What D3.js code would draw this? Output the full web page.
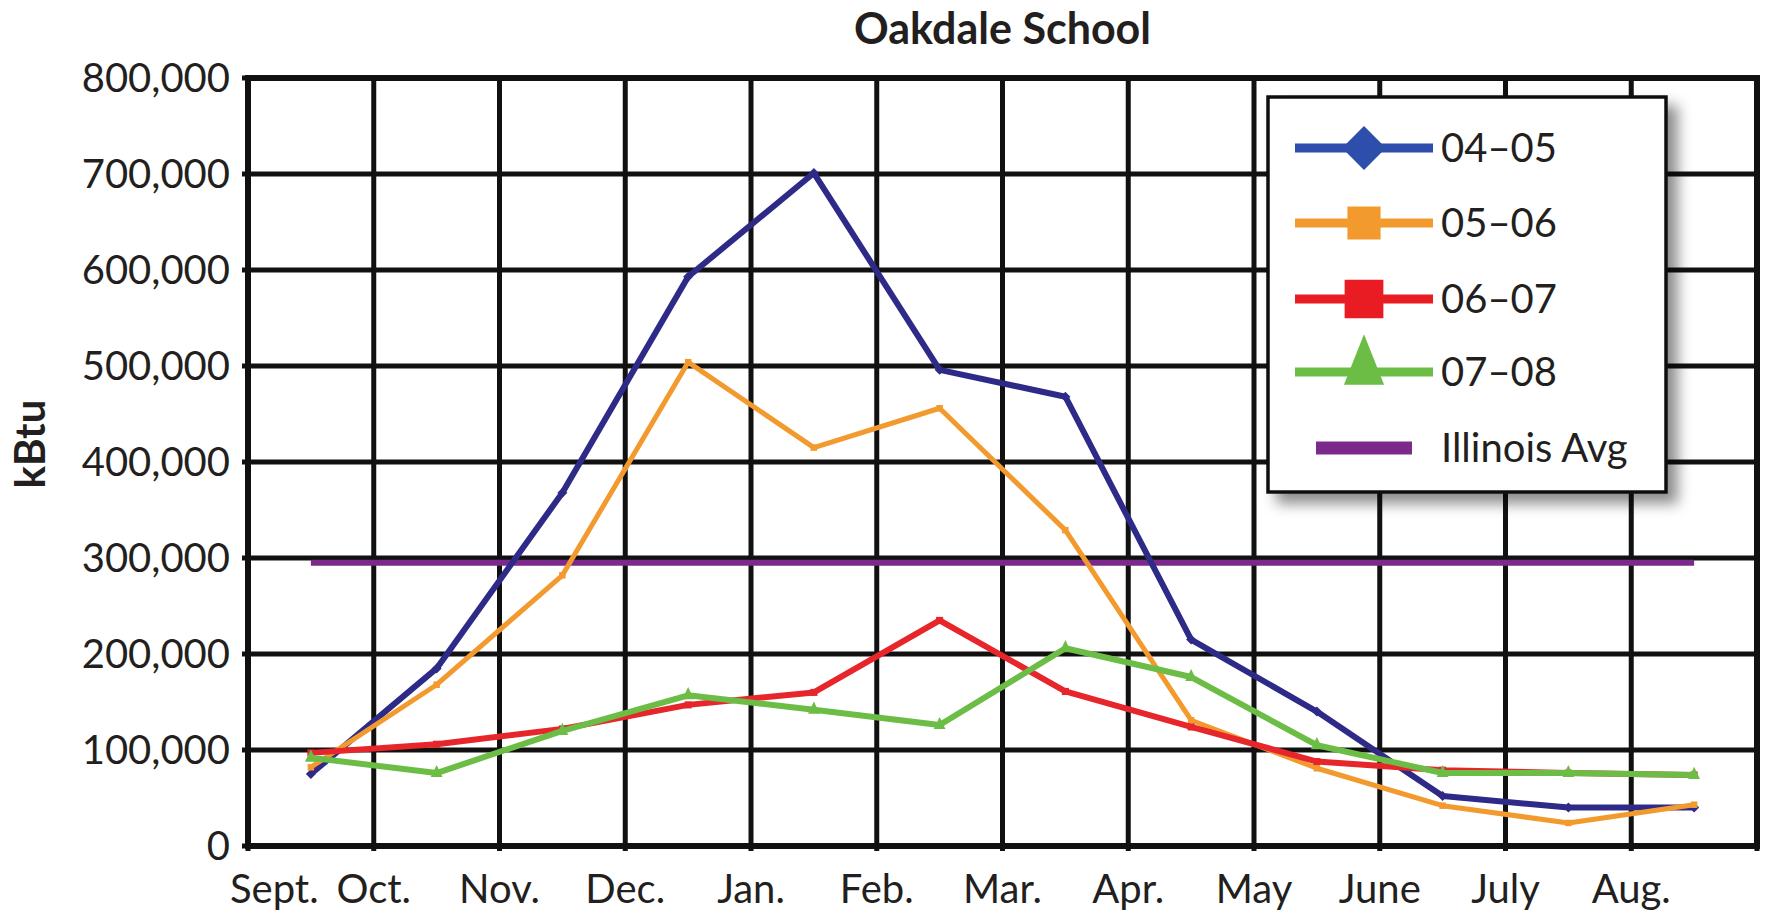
<!DOCTYPE html>
<html>
<head>
<meta charset="utf-8">
<script src="https://cdn.jsdelivr.net/npm/d3@7"></script>
<style>
  html, body { margin: 0; padding: 0; background: #ffffff; }
  svg { display: block; }
  text { font-family: Lato, "Noto Sans", sans-serif; fill: #231f20; }
</style>
</head>
<body>
<svg id="chart" width="1768" height="913"></svg>
<script>
// Monthly energy use at Oakdale School, in kBtu
const months = ["Sept.", "Oct.", "Nov.", "Dec.", "Jan.", "Feb.", "Mar.", "Apr.", "May", "June", "July", "Aug."];
const y0405 = [75000, 185000, 368000, 593000, 701000, 496000, 468000, 215000, 140000, 52000, 40000, 40000];
const y0506 = [82000, 168000, 282000, 504000, 415000, 456000, 329000, 131000, 81000, 42000, 24000, 43000];
const y0607 = [97000, 106000, 122000, 147000, 160000, 235000, 161000, 124000, 88000, 79000, 76000, 74000];
const y0708 = [92000, 76000, 120000, 157000, 142000, 126000, 206000, 176000, 105000, 76000, 76000, 74000];
const illinoisAvg = [295000, 295000, 295000, 295000, 295000, 295000, 295000, 295000, 295000, 295000, 295000, 295000];
const yTicks = [0, 100000, 200000, 300000, 400000, 500000, 600000, 700000, 800000];

const series = [
  { name: "Illinois Avg", values: illinoisAvg, color: "#7b2a8c", width: 6, marker: null },
  { name: "04\u201305", values: y0405, color: "#2e2a88", key: "#2d4fab", width: 6, marker: "diamond" },
  { name: "05\u201306", values: y0506, color: "#f39a2e", key: "#f39a2e", width: 5, marker: "square" },
  { name: "06\u201307", values: y0607, color: "#e7262b", key: "#e91c24", width: 6, marker: "bigsquare" },
  { name: "07\u201308", values: y0708, color: "#6cbd45", key: "#6cbd45", width: 6, marker: "triangle" }
];

const svg = d3.select("#chart");
const plot = { left: 248, right: 1757, top: 78, bottom: 846 };

const x = d3.scaleBand().domain(months).range([plot.left, plot.right]).padding(0);
const y = d3.scaleLinear().domain([0, 800000]).range([plot.bottom, plot.top]);
const fmt = d3.format(",");

// drop shadow for the legend box
const defs = svg.append("defs");
const shadow = defs.append("filter").attr("id", "legendShadow")
  .attr("x", "-10%").attr("y", "-10%").attr("width", "130%").attr("height", "130%");
shadow.append("feDropShadow").attr("dx", 10).attr("dy", 10)
  .attr("stdDeviation", 7).attr("flood-color", "#000").attr("flood-opacity", 0.45);

// title
svg.append("text")
  .attr("x", (plot.left + plot.right) / 2).attr("y", 44)
  .attr("text-anchor", "middle")
  .style("font-size", "43px").style("font-weight", "700")
  .text("Oakdale School");

// y axis title
svg.append("text")
  .attr("transform", `translate(45,${(plot.top + plot.bottom) / 2 - 18}) rotate(-90)`)
  .attr("text-anchor", "middle")
  .style("font-size", "42px").style("font-weight", "700")
  .text("kBtu");

// horizontal grid lines + small ticks
const grid = svg.append("g");
grid.selectAll("line.h").data(yTicks).join("line")
  .attr("x1", plot.left - 6).attr("x2", plot.right)
  .attr("y1", d => y(d)).attr("y2", d => y(d))
  .attr("stroke", "#111").attr("stroke-width", 5);

// vertical grid lines at month boundaries
const bounds = months.map(m => x(m)).concat([plot.right]);
grid.selectAll("line.v").data(bounds).join("line")
  .attr("x1", d => d).attr("x2", d => d)
  .attr("y1", plot.top).attr("y2", plot.bottom + 5)
  .attr("stroke", "#111").attr("stroke-width", 5);

// plot frame
grid.append("rect")
  .attr("x", plot.left).attr("y", plot.top)
  .attr("width", plot.right - plot.left).attr("height", plot.bottom - plot.top)
  .attr("fill", "none").attr("stroke", "#111").attr("stroke-width", 6);

// y tick labels
svg.append("g").selectAll("text").data(yTicks).join("text")
  .attr("x", plot.left - 18).attr("y", d => y(d) + 14)
  .attr("text-anchor", "end")
  .style("font-size", "40px")
  .text(d => fmt(d));

// x tick labels sit on the month boundaries
const xl = svg.append("g").selectAll("text").data(months).join("text")
  .attr("y", 903)
  .attr("text-anchor", "middle")
  .style("font-size", "40px")
  .text(d => d);
xl.each(function (d) {
  const w = this.getComputedTextLength();
  const pos = Math.max(x(d), 230 + w / 2);
  d3.select(this).attr("x", pos);
});

// marker shapes
function markerPath(kind, big) {
  if (kind === "diamond") return d3.symbol(d3.symbolSquare, big ? 960 : 50)();
  if (kind === "square") return d3.symbol(d3.symbolSquare, big ? 1100 : 42)();
  if (kind === "bigsquare") return d3.symbol(d3.symbolSquare, big ? 1500 : 50)();
  if (kind === "triangle") return d3.symbol(d3.symbolTriangle, big ? 700 : 60)();
  return null;
}
function markerTransform(kind, cx, cy, big) {
  if (kind === "diamond") return `translate(${cx},${cy}) rotate(45)`;
  if (kind === "triangle") return `translate(${cx},${cy}) scale(1,${big ? 1.45 : 1.2})`;
  return `translate(${cx},${cy})`;
}

// lines
const line = d3.line()
  .x((d, i) => x(months[i]) + x.bandwidth() / 2)
  .y(d => y(d));

series.forEach(s => {
  const g = svg.append("g");
  g.append("path")
    .attr("d", line(s.values))
    .attr("fill", "none")
    .attr("stroke", s.color)
    .attr("stroke-width", s.width)
    .attr("stroke-linejoin", "round");
  if (s.marker) {
    g.selectAll("path.m").data(s.values).join("path")
      .attr("d", markerPath(s.marker, false))
      .attr("transform", (d, i) => markerTransform(s.marker, x(months[i]) + x.bandwidth() / 2, y(d), false))
      .attr("fill", s.color);
  }
});

// legend
const legend = svg.append("g");
legend.append("rect")
  .attr("x", 1268).attr("y", 97).attr("width", 398).attr("height", 395)
  .attr("fill", "#ffffff").attr("stroke", "#111").attr("stroke-width", 3.5)
  .attr("filter", "url(#legendShadow)");

const legendOrder = [series[1], series[2], series[3], series[4], series[0]];
const rowY = [148, 223, 299, 372, 448];
legendOrder.forEach((s, i) => {
  const cy = rowY[i];
  if (s.marker) {
    legend.append("line")
      .attr("x1", 1295).attr("x2", 1433).attr("y1", cy).attr("y2", cy)
      .attr("stroke", s.key).attr("stroke-width", 9);
    legend.append("path")
      .attr("d", markerPath(s.marker, true))
      .attr("transform", markerTransform(s.marker, 1364, s.marker === "triangle" ? cy - 4 : cy, true))
      .attr("fill", s.key);
  } else {
    legend.append("line")
      .attr("x1", 1316).attr("x2", 1412).attr("y1", cy).attr("y2", cy)
      .attr("stroke", s.color).attr("stroke-width", 13);
  }
  legend.append("text")
    .attr("x", 1441).attr("y", cy + 14)
    .style("font-size", "40px")
    .text(s.name);
});
</script>
</body>
</html>
